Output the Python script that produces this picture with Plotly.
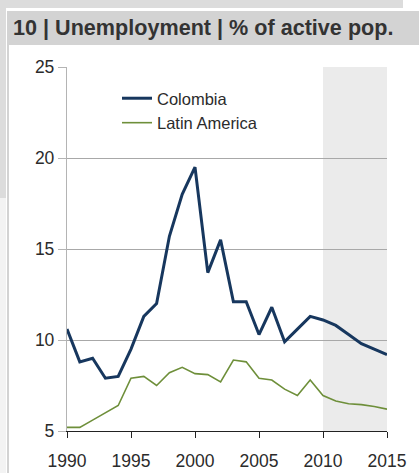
import plotly.graph_objects as go

years = list(range(1990, 2016))
colombia = [10.6, 8.8, 9.0, 7.9, 8.0, 9.5, 11.3, 12.0, 15.7, 18.0, 19.5, 13.7, 15.5,
            12.1, 12.1, 10.3, 11.8, 9.9, 10.6, 11.3, 11.1, 10.8, 10.3, 9.8, 9.5, 9.2]
latam = [5.2, 5.2, 5.6, 6.0, 6.4, 7.9, 8.0, 7.5, 8.2, 8.5, 8.15, 8.1, 7.7,
         8.9, 8.8, 7.9, 7.8, 7.3, 6.95, 7.8, 6.95, 6.65, 6.5, 6.45, 6.35, 6.2]
forecast_start, forecast_end = 2010, 2015
title_text = "10 | Unemployment | % of active pop."
x_ticks = [1990, 1995, 2000, 2005, 2010, 2015]
y_ticks = [5, 10, 15, 20, 25]

W, H = 419, 473
L, R, T, B = 67, 32, 67, 42
PW, PH = W - L - R, H - T - B

def px(x):
    return (x - L) / PW

def py(y):
    return (H - B - y) / PH

fig = go.Figure()
fig.add_trace(go.Scatter(x=years, y=colombia, mode="lines", name="Colombia",
                         line=dict(color="#17375e", width=3)))
fig.add_trace(go.Scatter(x=years, y=latam, mode="lines", name="Latin America",
                         line=dict(color="#6e8f3a", width=1.6)))

shapes = [
    # page decorations
    dict(type="rect", xref="paper", yref="paper", x0=px(0), x1=px(403), y0=py(8), y1=py(0),
         fillcolor="#dcdcdc", line_width=0, layer="below"),
    dict(type="rect", xref="paper", yref="paper", x0=px(0), x1=px(6), y0=py(198), y1=py(0),
         fillcolor="#dcdcdc", line_width=0, layer="below"),
    dict(type="rect", xref="paper", yref="paper", x0=px(0), x1=px(6), y0=py(473), y1=py(198),
         fillcolor="#f3f3f3", line_width=0, layer="below"),
    dict(type="line", xref="paper", yref="paper", x0=px(8), x1=px(8), y0=py(473), y1=py(44),
         line=dict(color="#c4c4c4", width=1.5), layer="below"),
    dict(type="rect", xref="paper", yref="paper", x0=px(7), x1=px(420), y0=py(45), y1=py(11),
         fillcolor="#d3d3d3", line_width=0, layer="below"),
    # forecast shading
    dict(type="rect", xref="x", yref="paper", x0=forecast_start, x1=forecast_end, y0=0, y1=1,
         fillcolor="#ebebeb", line_width=0, layer="below"),
]

fig.update_layout(
    width=W, height=H,
    margin=dict(l=L, r=R, t=T, b=B, autoexpand=False),
    paper_bgcolor="white", plot_bgcolor="rgba(0,0,0,0)",
    font=dict(family="Liberation Sans, Arial, sans-serif", size=17.5, color="#2b2b2b"),
    showlegend=True,
    legend=dict(x=px(117), y=py(81), xanchor="left", yanchor="top",
                bgcolor="rgba(0,0,0,0)", borderwidth=0, itemwidth=30,
                font=dict(size=16.5, color="#2b2b2b"), tracegroupgap=0),
    shapes=shapes,
    annotations=[dict(text="<b>%s</b>" % title_text, xref="paper", yref="paper",
                      x=px(11), y=py(28), xanchor="left", yanchor="middle",
                      showarrow=False, font=dict(size=21.6, color="#333333"))],
)

fig.update_xaxes(range=[1990, 2015], tickvals=x_ticks, showgrid=False,
                 showline=True, linecolor="#222222", linewidth=1.2,
                 ticks="outside", ticklen=6, tickcolor="#222222", tickwidth=1.2,
                 ticklabelstandoff=8, zeroline=False, fixedrange=True, automargin=False)
fig.update_yaxes(range=[5, 25], tickvals=y_ticks, showgrid=True, gridcolor="#a8a8a8",
                 gridwidth=1.3, showline=True, linecolor="#b4b4b4", linewidth=1.3,
                 ticks="outside", ticklen=8, tickcolor="#b4b4b4", tickwidth=1.3,
                 zeroline=False, fixedrange=True, automargin=False)

fig.write_html("out.html", config=dict(displayModeBar=False))
